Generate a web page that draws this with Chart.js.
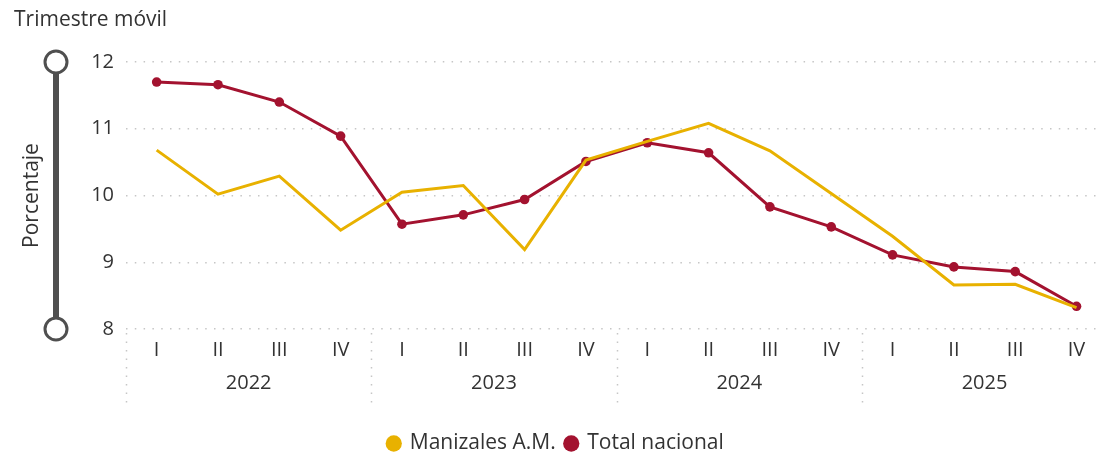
<!DOCTYPE html>
<html>
<head>
<meta charset="utf-8">
<script src="https://cdn.jsdelivr.net/npm/chart.js@4"></script>
<style>
  html, body { margin: 0; padding: 0; background: #fff; overflow: hidden; }
  #wrap { position: relative; width: 1112px; height: 464px; }
</style>
</head>
<body>
<div id="wrap"><canvas id="chart"></canvas></div>
<script>
// data
const years = ['2022', '2023', '2024', '2025'];
const quarters = ['I', 'II', 'III', 'IV'];
const labels = years.flatMap(() => quarters);
const manizales = [10.68, 10.02, 10.29, 9.48, 10.05, 10.15, 9.19, 10.53, 10.81, 11.08, 10.67, 10.03, 9.39, 8.66, 8.67, 8.32];
const nacional = [11.70, 11.66, 11.40, 10.89, 9.57, 9.71, 9.94, 10.51, 10.79, 10.64, 9.83, 9.53, 9.11, 8.93, 8.86, 8.34];
const yTicks = [8, 9, 10, 11, 12];
const xTitle = 'Trimestre móvil';
const yTitle = 'Porcentaje';

const FONT = '"Segoe UI", "Open Sans", sans-serif';
const TEXT = '#333333';
const GRID = '#c6c6c6';

// slider, rotated title, year row and separators
const decor = {
    id: 'decor',
    afterDraw(chart) {
        const { ctx, scales: { x, y } } = chart;
        ctx.save();
        ctx.fillStyle = TEXT;
        ctx.font = '21px ' + FONT;
        ctx.textBaseline = 'middle';
        ctx.textAlign = 'left';
        ctx.fillText(xTitle, 14, 20);

        // range slider
        const sx = 56;
        const top = y.getPixelForValue(y.max);
        const bot = y.getPixelForValue(y.min);
        ctx.strokeStyle = '#4f4f4f';
        ctx.lineWidth = 6;
        ctx.beginPath();
        ctx.moveTo(sx, top);
        ctx.lineTo(sx, bot);
        ctx.stroke();
        ctx.lineWidth = 3;
        [top, bot].forEach(cy => {
            ctx.beginPath();
            ctx.arc(sx, cy, 11, 0, Math.PI * 2);
            ctx.fillStyle = '#fff';
            ctx.fill();
            ctx.stroke();
        });

        // rotated axis title
        ctx.save();
        ctx.translate(32, (top + bot) / 2);
        ctx.rotate(-Math.PI / 2);
        ctx.textAlign = 'center';
        ctx.fillStyle = TEXT;
        ctx.font = '21px ' + FONT;
        ctx.fillText(yTitle, 0, 0);
        ctx.restore();

        // year labels and dotted separators
        const half = (x.getPixelForValue(1) - x.getPixelForValue(0)) / 2;
        ctx.font = '20px ' + FONT;
        ctx.textAlign = 'center';
        ctx.fillStyle = TEXT;
        years.forEach((yr, i) => {
            const a = x.getPixelForValue(i * 4);
            const b = x.getPixelForValue(i * 4 + 3);
            ctx.fillText(yr, (a + b) / 2, 383);
            const sep = Math.round(a - half) + 0.5;
            ctx.strokeStyle = GRID;
            ctx.lineWidth = 1.5;
            ctx.setLineDash([1.5, 7]);
            ctx.beginPath();
            ctx.moveTo(sep, bot + 4);
            ctx.lineTo(sep, 406);
            ctx.stroke();
        });
        ctx.restore();
    }
};

new Chart(document.getElementById('chart'), {
    type: 'line',
    data: {
        labels: labels,
        datasets: [{
            label: 'Manizales A.M.',
            data: manizales,
            borderColor: '#e8b100',
            backgroundColor: '#e8b100',
            borderWidth: 3,
            pointRadius: 0,
            pointBorderWidth: 0,
            pointStyle: 'circle',
            tension: 0
        }, {
            label: 'Total nacional',
            data: nacional,
            borderColor: '#a3122f',
            backgroundColor: '#a3122f',
            borderWidth: 3,
            pointRadius: 4.8,
            pointBorderWidth: 0,
            pointStyle: 'circle',
            tension: 0
        }]
    },
    options: {
        responsive: true,
        maintainAspectRatio: false,
        animation: false,
        layout: { padding: { top: 62, left: 0, right: 0, bottom: 0 } },
        plugins: {
            legend: {
                position: 'bottom',
                labels: {
                    usePointStyle: true,
                    boxWidth: 11,
                    boxHeight: 11.5,
                    padding: 10,
                    color: TEXT,
                    font: { size: 21, family: FONT }
                }
            },
            tooltip: { enabled: false }
        },
        scales: {
            x: {
                offset: true,
                grid: { display: false, drawTicks: false },
                border: { display: false },
                ticks: {
                    color: TEXT,
                    font: { size: 20, family: FONT },
                    padding: 9,
                    autoSkip: false,
                    maxRotation: 0
                },
                afterFit: s => { s.height = 94; }
            },
            y: {
                min: 8,
                max: 12,
                afterBuildTicks: s => { s.ticks = yTicks.map(v => ({ value: v })); },
                grid: { color: GRID, lineWidth: 1.5, drawTicks: false },
                border: { display: false, dash: [1.5, 7.3] },
                ticks: {
                    color: TEXT,
                    font: { size: 20, family: FONT },
                    padding: 12
                },
                afterFit: s => { s.width = 126; }
            }
        }
    },
    plugins: [decor]
});
</script>
</body>
</html>
